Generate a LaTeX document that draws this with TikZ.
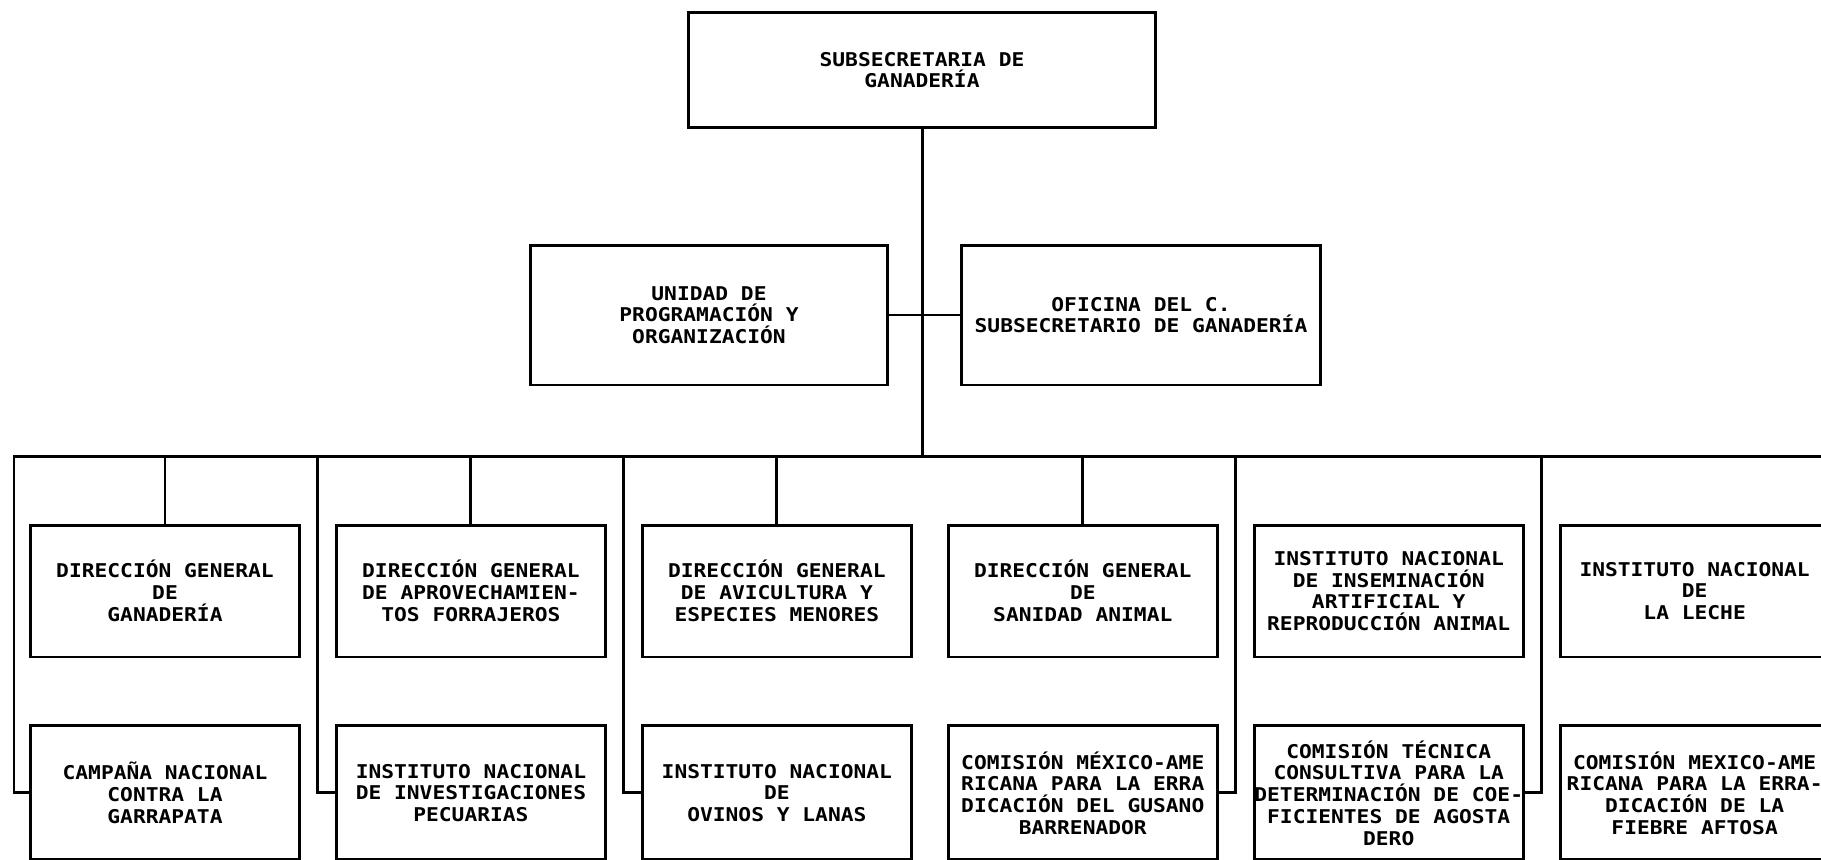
\documentclass[tikz,border=0pt]{standalone}
\usepackage{fontspec}
\newfontfamily\orgfont[FakeStretch=1.12]{DejaVu Sans Mono}
\usetikzlibrary{positioning, calc}
\tikzset{
  orgbox/.style={rectangle, draw=black, line width=1.7pt, align=center,
                 inner sep=0pt, minimum width=5.38cm, minimum height=2.64cm,
                 font=\orgfont\bfseries\fontsize{10.8}{12.35}\selectfont},
  lowbox/.style={orgbox, minimum height=2.68cm},
  orglink/.style={line width=1.7pt},
  thinlink/.style={line width=0.9pt},
}
\begin{document}
\begin{tikzpicture}[x=0.02cm, y=-0.02cm, node distance=1.32cm and 0.68cm]
  \useasboundingbox (0,0) rectangle (1821,859);
  % cabeza y staff
  \node[orgbox, minimum width=9.36cm, minimum height=2.32cm] (sub) at (922,70) {SUBSECRETARIA DE\\GANADERÍA};
  \node[orgbox, minimum width=7.16cm, minimum height=2.8cm] (upo) at (709,315) {UNIDAD DE\\PROGRAMACIÓN Y\\ORGANIZACIÓN};
  \node[orgbox, minimum width=7.2cm, minimum height=2.8cm] (ofi) at (1141,315) {OFICINA DEL C.\\SUBSECRETARIO DE GANADERÍA};
  % direcciones e institutos
  \node[orgbox] (dgg) at (165,591) {DIRECCIÓN GENERAL\\DE\\GANADERÍA};
  \node[orgbox, right=of dgg] (dgaf) {DIRECCIÓN GENERAL\\DE APROVECHAMIEN-\\TOS FORRAJEROS};
  \node[orgbox, right=of dgaf] (dgav) {DIRECCIÓN GENERAL\\DE AVICULTURA Y\\ESPECIES MENORES};
  \node[orgbox, right=of dgav] (dgsa) {DIRECCIÓN GENERAL\\DE\\SANIDAD ANIMAL};
  \node[orgbox, right=of dgsa] (iniar) {INSTITUTO NACIONAL\\DE INSEMINACIÓN\\ARTIFICIAL Y\\REPRODUCCIÓN ANIMAL};
  \node[orgbox, right=of iniar] (inl) {INSTITUTO NACIONAL\\DE\\LA LECHE};
  % fila inferior
  \node[lowbox, below=of dgg] (cnc) {CAMPAÑA NACIONAL\\CONTRA LA\\GARRAPATA};
  \node[lowbox, below=of dgaf] (inip) {INSTITUTO NACIONAL\\DE INVESTIGACIONES\\PECUARIAS};
  \node[lowbox, below=of dgav] (inol) {INSTITUTO NACIONAL\\DE\\OVINOS Y LANAS};
  \node[lowbox, below=of dgsa] (cgb) {COMISIÓN MÉXICO-AME\\RICANA PARA LA ERRA\\DICACIÓN DEL GUSANO\\BARRENADOR};
  \node[lowbox, below=of iniar] (ctc) {COMISIÓN TÉCNICA\\CONSULTIVA PARA LA\\DETERMINACIÓN DE COE-\\FICIENTES DE AGOSTA\\DERO};
  \node[lowbox, below=of inl] (cfa) {COMISIÓN MEXICO-AME\\RICANA PARA LA ERRA-\\DICACIÓN DE LA\\FIEBRE AFTOSA};
  % barra horizontal y huecos entre columnas
  \coordinate (bus) at (14,456);
  \coordinate (busend) at (1821,456);
  \coordinate (g2) at ($(dgg.east)!0.5!(dgaf.west)$);
  \coordinate (g3) at ($(dgaf.east)!0.5!(dgav.west)$);
  \coordinate (g4) at ($(dgsa.east)!0.5!(iniar.west)$);
  \coordinate (g5) at ($(iniar.east)!0.5!(inl.west)$);
  \draw[orglink] (sub) -- (sub |- bus);
  \draw[thinlink] (upo) -- (ofi);
  \draw[orglink] (busend) -- (bus) |- (cnc);
  \foreach \n in {dgg, dgaf, dgav, dgsa}
    \draw[orglink] (\n) -- (\n |- bus);
  \draw[orglink] (g2 |- bus) |- (inip);
  \draw[orglink] (g3 |- bus) |- (inol);
  \draw[orglink] (g4 |- bus) |- (cgb);
  \draw[orglink] (g5 |- bus) |- (ctc);
\end{tikzpicture}
\end{document}
